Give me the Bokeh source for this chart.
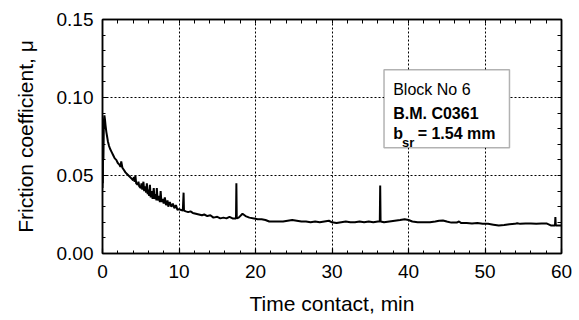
from bokeh.plotting import figure
from bokeh.models import (LinearAxis, FixedTicker, NumeralTickFormatter, BoxAnnotation,
                          Label, Range1d)
from bokeh.embed import file_html
from bokeh.resources import INLINE

# ---- data ----
time_min = [
    0.0, 0.02, 0.05, 0.08, 0.12, 0.18, 0.25, 0.32, 0.40, 0.50,
    0.60, 0.70, 0.85, 1.0, 1.2, 1.4, 1.6, 1.8, 2.0, 2.2,
    2.35, 2.45, 2.6, 2.8, 3.0, 3.2, 3.4, 3.6, 3.8, 4.0,
    4.1, 4.2, 4.3, 4.4, 4.6, 4.7, 4.8, 5.0, 5.1, 5.2,
    5.35, 5.45, 5.6, 5.7, 5.8, 5.9, 6.0, 6.1, 6.2, 6.3,
    6.45, 6.55, 6.7, 6.8, 6.95, 7.05, 7.1, 7.2, 7.4, 7.5,
    7.6, 7.7, 7.85, 8.0, 8.15, 8.3, 8.5, 8.6, 8.8, 9.0,
    9.2, 9.4, 9.6, 9.8, 10.0, 10.2, 10.5, 10.6, 10.65, 10.9,
    11.2, 11.5, 11.8, 12.2, 12.6, 13.0, 13.3, 13.7, 14.1, 14.5,
    15.0, 15.4, 15.8, 16.2, 16.6, 17.0, 17.45, 17.5, 17.55, 17.8,
    18.3, 18.7, 19.2, 19.8, 20.3, 20.8, 21.3, 21.8, 22.4, 23.0,
    23.6, 24.2, 24.8, 25.4, 26.0, 26.6, 27.2, 27.8, 28.4, 29.0,
    29.6, 30.0, 30.6, 31.2, 31.8, 32.4, 33.0, 33.6, 34.2, 34.8,
    35.4, 36.0, 36.25, 36.3, 36.35, 36.8, 37.5, 38.2, 38.9, 39.5,
    40.0, 40.5, 41.2, 42.0, 42.8, 43.5, 44.0, 44.5, 45.0, 45.6,
    46.3, 46.6, 46.9, 47.6, 48.3, 49.0, 49.7, 50.4, 51.1, 51.8,
    52.5, 53.2, 53.9, 54.2, 54.6, 55.3, 56.0, 56.7, 57.4, 58.1,
    58.6, 59.15, 59.2, 59.25, 59.6, 60.0,
]
friction = [
    0.042, 0.075, 0.045, 0.080, 0.060, 0.085, 0.0885, 0.086, 0.082, 0.078,
    0.075, 0.072, 0.069, 0.067, 0.065, 0.063, 0.061, 0.060, 0.058, 0.057,
    0.0555, 0.059, 0.055, 0.0535, 0.052, 0.051, 0.050, 0.049, 0.048, 0.047,
    0.049, 0.046, 0.050, 0.045, 0.044, 0.046, 0.043, 0.042, 0.045, 0.041,
    0.046, 0.040, 0.043, 0.039, 0.045, 0.038, 0.041, 0.037, 0.044, 0.036,
    0.040, 0.035, 0.042, 0.035, 0.038, 0.034, 0.042, 0.034, 0.037, 0.033,
    0.040, 0.033, 0.035, 0.032, 0.036, 0.031, 0.034, 0.030, 0.033, 0.030,
    0.032, 0.029, 0.031, 0.028, 0.0285, 0.028, 0.0275, 0.039, 0.0275, 0.027,
    0.0265, 0.027, 0.026, 0.0255, 0.025, 0.0245, 0.025, 0.024, 0.0245, 0.023,
    0.0235, 0.0225, 0.023, 0.0225, 0.0235, 0.0225, 0.0225, 0.045, 0.0225, 0.023,
    0.0255, 0.024, 0.023, 0.0225, 0.022, 0.022, 0.0215, 0.0205, 0.0205, 0.0205,
    0.0205, 0.021, 0.0215, 0.021, 0.0205, 0.0205, 0.020, 0.0205, 0.020, 0.0205,
    0.021, 0.020, 0.0195, 0.020, 0.0205, 0.020, 0.020, 0.0205, 0.020, 0.0205,
    0.020, 0.0205, 0.0205, 0.0436, 0.0205, 0.020, 0.0205, 0.021, 0.0215, 0.022,
    0.0215, 0.0205, 0.020, 0.020, 0.020, 0.0205, 0.021, 0.0212, 0.0205, 0.0198,
    0.0198, 0.0205, 0.0195, 0.0195, 0.0192, 0.0195, 0.019, 0.019, 0.0185, 0.018,
    0.0182, 0.0188, 0.019, 0.0194, 0.019, 0.0192, 0.0192, 0.019, 0.0192, 0.0192,
    0.018, 0.018, 0.0233, 0.018, 0.018, 0.018,
]

x_ticks = [0, 10, 20, 30, 40, 50, 60]
x_minor = [2, 4, 6, 8, 12, 14, 16, 18, 22, 24, 26, 28, 32, 34, 36, 38,
           42, 44, 46, 48, 52, 54, 56, 58]
y_ticks = [0.0, 0.05, 0.10, 0.15]
y_minor = [0.01, 0.02, 0.03, 0.04, 0.06, 0.07, 0.08, 0.09, 0.11, 0.12, 0.13, 0.14]

FONT = "Liberation Sans"

p = figure(width=579, height=320, output_backend="svg", toolbar_location=None,
           x_range=Range1d(0, 60), y_range=Range1d(0, 0.15),
           min_border_left=102, min_border_right=18, min_border_top=19,
           min_border_bottom=67, x_axis_label="Time contact, min",
           y_axis_label="Friction coefficient, \u03bc")
p.background_fill_color = "white"
p.border_fill_color = "white"
p.outline_line_color = "black"
p.outline_line_width = 1.5

xt = FixedTicker(ticks=x_ticks, minor_ticks=x_minor)
yt = FixedTicker(ticks=y_ticks, minor_ticks=y_minor)
# mirror axes: every tick drawn as a "minor" tick so no labels are produced
xt_mirror = FixedTicker(ticks=[], minor_ticks=x_ticks + x_minor)
yt_mirror = FixedTicker(ticks=[], minor_ticks=y_ticks + y_minor)

def style_axis(ax, ticker):
    ax.ticker = ticker
    ax.axis_line_color = "black"
    ax.axis_line_width = 1.5
    ax.major_tick_in = 5
    ax.major_tick_out = 0
    ax.minor_tick_in = 3
    ax.minor_tick_out = 0
    ax.major_tick_line_color = "black"
    ax.minor_tick_line_color = "black"
    ax.major_tick_line_width = 1.2
    ax.minor_tick_line_width = 1
    ax.major_label_text_font = FONT
    ax.major_label_text_font_size = "19px"
    ax.major_label_text_color = "black"
    ax.axis_label_text_font = FONT
    ax.axis_label_text_font_size = "21px"
    ax.axis_label_text_font_style = "normal"
    ax.axis_label_text_color = "black"

xa = p.xaxis[0]
ya = p.yaxis[0]
style_axis(xa, xt)
style_axis(ya, yt)
xa.major_label_standoff = 11
xa.axis_label_standoff = 11
ya.major_label_standoff = 9
ya.axis_label_standoff = 17
ya.formatter = NumeralTickFormatter(format="0.00")

ra = LinearAxis()
style_axis(ra, yt_mirror)
ra.minor_tick_in = 4
ra.major_label_standoff = 0
p.add_layout(ra, "right")
ta = LinearAxis()
style_axis(ta, xt_mirror)
ta.minor_tick_in = 4
ta.major_label_standoff = 0
p.add_layout(ta, "above")

for g, t in ((p.xgrid, xt), (p.ygrid, yt)):
    g.ticker = t
    g.grid_line_color = "black"
    g.grid_line_dash = "2 2"
    g.grid_line_width = 1

p.line(time_min, friction, line_color="black", line_width=2)

# text box
box = BoxAnnotation(left=36.8, right=53.2, bottom=0.0678, top=0.1178,
                    fill_color="white", fill_alpha=1.0,
                    line_color="black", line_width=1.5, level="overlay")
p.add_layout(box)

def lab(x, y, text, size="16px", style="normal"):
    p.add_layout(Label(x=x, y=y, text=text, text_font=FONT, text_font_size=size,
                       text_font_style=style, text_color="black",
                       text_baseline="alphabetic", text_align="left", level="overlay"))

lab(38.0, 0.1049, "Block No 6")
lab(38.0, 0.0896, "B.M. C0361", style="bold")
lab(38.0, 0.0767, "b", style="bold")
lab(39.15, 0.0713, "sr", size="13px", style="bold")
lab(41.2, 0.0767, "= 1.54 mm", style="bold")

open("out.html", "w").write(file_html(p, INLINE))
